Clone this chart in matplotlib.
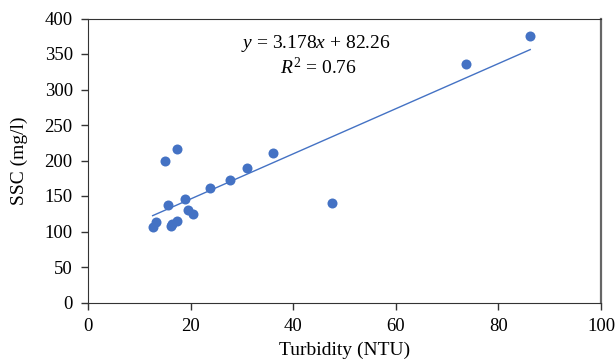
import matplotlib
matplotlib.use("Agg")
import matplotlib.pyplot as plt
import numpy as np

# turbidity (NTU) and suspended sediment concentration (mg/l)
turbidity = [86.2, 73.6, 47.5, 36.0, 31.0, 27.7, 23.7, 17.3, 15.0, 19.0,
             15.5, 19.4, 20.4, 13.3, 12.6, 17.3, 16.1, 16.4]
ssc = [376, 336, 140, 211, 190, 172, 161, 216, 199, 146,
       137, 130, 124, 114, 107, 115, 108, 111]

slope = 3.178
intercept = 82.26
r2 = 0.76

plt.rcParams['font.family'] = ['Liberation Serif', 'DejaVu Serif']
plt.rcParams['mathtext.fontset'] = 'custom'
plt.rcParams['mathtext.it'] = 'Liberation Serif:italic'
plt.rcParams['mathtext.rm'] = 'Liberation Serif'

W, H = 615, 364
fig = plt.figure(figsize=(W / 100, H / 100), dpi=100)
ax = fig.add_axes([88 / W, 1 - 302.5 / H, 513 / W, 284 / H])

blue = '#4472C4'
ax.scatter(turbidity, ssc, s=52, color=blue, zorder=3, linewidths=0)

xs = np.array([min(turbidity), max(turbidity)])
ax.plot(xs, slope * xs + intercept, color=blue, lw=1.0, zorder=2)

# regression equation, placed in figure pixels
ax.text(316 / W, 1 - 44 / H, f"$y$ = {slope}$x$ + {intercept}",
        transform=fig.transFigure, ha='center', va='center', fontsize=14)
ax.text(318 / W, 1 - 67 / H, f"$R^2$ = {r2}",
        transform=fig.transFigure, ha='center', va='center', fontsize=14)

ax.set_xlim(0, 100)
ax.set_ylim(0, 400)
ax.set_xticks(range(0, 101, 20))
ax.set_yticks(range(0, 401, 50))
ax.tick_params(direction='out', length=5, width=1, labelsize=13.5,
               color='#333333', pad=6)
for sp in ax.spines.values():
    sp.set_color('#333333')
ax.spines['right'].set_color('#666666')
ax.spines['right'].set_linewidth(1.6)

ax.set_xlabel("Turbidity (NTU)", fontsize=14, labelpad=5)
ax.set_ylabel("SSC (mg/l)", fontsize=14, labelpad=12)

fig.savefig("out.png", dpi=100)
